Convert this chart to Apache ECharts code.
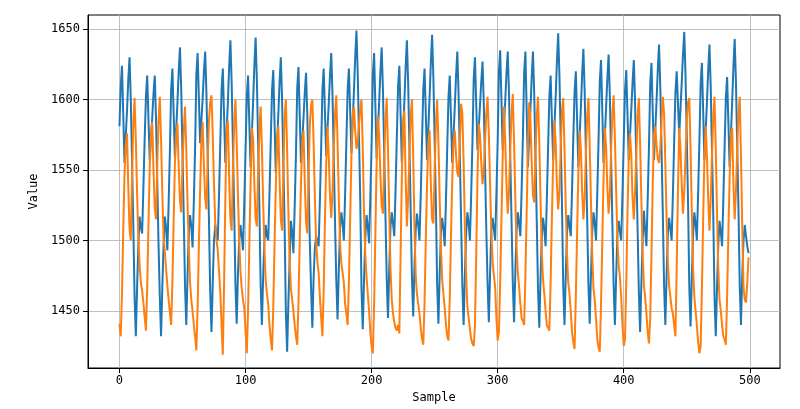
<!DOCTYPE html>
<html>
<head>
<meta charset="utf-8">
<script src="https://cdn.jsdelivr.net/npm/echarts@6/dist/echarts.min.js"></script>
<style>
html, body { margin: 0; padding: 0; background: #fff; }
#main { width: 800px; height: 409px; }
</style>
</head>
<body>
<div id="main"></div>
<script>
// tick labels
var xTicks = [0, 100, 200, 300, 400, 500];
var yTicks = [1450, 1500, 1550, 1600, 1650];

// series 1 (blue), one line per 20-sample cycle
var blueValues = [
  1581,1609,1624,1590,1555,1574,1592,1614,1630,1600,1555,1510,1460,1432,1467,1497,1517,1509,1505,1538,
  1572,1602,1617,1587,1557,1572,1587,1604,1617,1587,1542,1497,1460,1432,1467,1497,1517,1509,1493,1526,
  1563,1607,1622,1590,1559,1579,1598,1620,1637,1607,1562,1517,1468,1440,1475,1505,1518,1510,1495,1528,
  1565,1618,1633,1601,1569,1585,1601,1620,1634,1604,1559,1514,1463,1435,1470,1500,1511,1503,1500,1533,
  1570,1607,1622,1588,1555,1577,1598,1623,1642,1612,1567,1522,1469,1441,1476,1500,1511,1503,1493,1526,
  1563,1602,1617,1584,1552,1575,1598,1624,1644,1614,1569,1524,1468,1440,1475,1500,1511,1503,1500,1533,
  1570,1606,1621,1584,1548,1568,1589,1612,1630,1600,1555,1510,1449,1421,1456,1486,1514,1506,1491,1524,
  1561,1608,1623,1589,1555,1571,1587,1605,1619,1589,1544,1499,1466,1438,1473,1495,1503,1499,1496,1529,
  1566,1607,1622,1591,1560,1578,1597,1617,1633,1603,1558,1513,1472,1444,1479,1509,1520,1512,1500,1533,
  1570,1607,1622,1592,1562,1584,1606,1630,1649,1619,1574,1529,1465,1437,1472,1502,1518,1510,1498,1531,
  1568,1618,1633,1596,1558,1578,1598,1620,1637,1607,1562,1517,1473,1445,1480,1510,1520,1512,1503,1536,
  1573,1609,1624,1590,1555,1577,1599,1623,1642,1612,1567,1522,1474,1446,1481,1508,1519,1511,1500,1533,
  1570,1607,1622,1590,1557,1579,1602,1626,1646,1616,1571,1526,1469,1441,1476,1506,1516,1508,1496,1529,
  1566,1602,1617,1586,1555,1575,1595,1617,1634,1604,1559,1514,1468,1440,1475,1505,1520,1512,1500,1533,
  1570,1615,1630,1597,1564,1580,1596,1613,1627,1597,1552,1507,1470,1442,1477,1507,1516,1508,1500,1533,
  1570,1620,1635,1600,1564,1582,1599,1619,1634,1604,1559,1514,1470,1442,1477,1507,1520,1512,1503,1536,
  1573,1619,1634,1593,1552,1573,1593,1616,1634,1604,1559,1514,1466,1438,1473,1503,1516,1508,1496,1529,
  1566,1602,1617,1587,1557,1580,1602,1627,1647,1617,1572,1527,1468,1440,1475,1505,1518,1510,1503,1536,
  1573,1605,1620,1586,1552,1573,1594,1618,1636,1606,1561,1516,1469,1441,1476,1506,1520,1512,1500,1533,
  1570,1613,1628,1592,1555,1574,1594,1615,1632,1602,1557,1512,1468,1440,1475,1505,1514,1506,1500,1533,
  1570,1606,1621,1589,1557,1575,1593,1612,1628,1598,1553,1508,1463,1435,1470,1500,1521,1507,1496,1529,
  1566,1611,1626,1592,1557,1578,1598,1621,1639,1609,1564,1519,1468,1440,1475,1505,1516,1508,1500,1533,
  1570,1605,1620,1598,1575,1593,1612,1632,1648,1618,1573,1528,1467,1439,1474,1504,1520,1512,1500,1533,
  1570,1611,1626,1592,1557,1578,1598,1621,1639,1609,1564,1519,1460,1432,1467,1497,1514,1506,1496,1529,
  1566,1601,1616,1584,1552,1575,1598,1623,1643,1613,1568,1523,1468,1440,1475,1500,1511,1503,1496,1491
];

// series 2 (orange)
var orangeValues = [
  1441,1432,1462,1507,1547,1568,1576,1538,1508,1500,1545,1583,1601,1571,1533,1501,1482,1470,1464,1456,
  1446,1436,1466,1511,1551,1576,1584,1550,1523,1515,1554,1584,1602,1572,1534,1502,1492,1480,1468,1458,
  1449,1440,1470,1515,1555,1575,1583,1552,1528,1520,1554,1577,1595,1565,1527,1495,1470,1458,1450,1440,
  1432,1422,1452,1497,1537,1572,1584,1553,1530,1522,1557,1585,1598,1603,1575,1540,1512,1500,1493,1478,
  1463,1440,1419,1470,1530,1580,1585,1546,1515,1507,1549,1582,1600,1570,1532,1500,1478,1466,1458,1452,
  1436,1420,1450,1495,1540,1580,1572,1540,1516,1510,1548,1577,1595,1565,1527,1495,1472,1462,1455,1440,
  1430,1422,1452,1497,1537,1573,1581,1544,1515,1507,1549,1588,1600,1565,1520,1485,1466,1458,1450,1440,
  1432,1426,1456,1501,1541,1570,1578,1542,1513,1505,1546,1582,1596,1600,1570,1530,1500,1485,1477,1460,
  1445,1432,1465,1515,1555,1581,1560,1532,1516,1535,1565,1590,1603,1570,1530,1497,1484,1477,1470,1455,
  1448,1440,1470,1515,1560,1590,1595,1578,1565,1570,1582,1593,1600,1565,1520,1490,1474,1462,1450,1435,
  1425,1420,1455,1505,1555,1588,1575,1545,1525,1519,1556,1585,1601,1565,1520,1480,1458,1448,1442,1438,
  1436,1440,1434,1490,1545,1585,1592,1545,1510,1530,1560,1588,1600,1560,1510,1475,1462,1455,1448,1438,
  1430,1426,1456,1501,1541,1570,1578,1540,1515,1512,1549,1582,1600,1570,1530,1495,1472,1462,1452,1440,
  1432,1429,1459,1504,1544,1570,1578,1560,1548,1545,1570,1597,1590,1555,1510,1475,1453,1445,1437,1430,
  1427,1425,1440,1490,1545,1583,1575,1555,1540,1550,1570,1590,1602,1575,1540,1505,1485,1475,1467,1445,
  1429,1435,1470,1515,1560,1595,1570,1540,1519,1535,1565,1590,1604,1570,1530,1495,1477,1467,1455,1445,
  1443,1440,1475,1520,1565,1598,1585,1555,1532,1527,1560,1588,1602,1570,1530,1492,1472,1462,1450,1440,
  1438,1436,1470,1515,1555,1585,1570,1540,1522,1535,1565,1592,1601,1565,1525,1490,1470,1462,1450,1435,
  1428,1423,1460,1505,1548,1578,1565,1535,1515,1530,1562,1588,1601,1568,1528,1490,1466,1458,1445,1430,
  1424,1421,1455,1500,1545,1580,1567,1538,1519,1532,1565,1590,1603,1572,1535,1500,1482,1474,1460,1440,
  1425,1430,1470,1520,1560,1576,1560,1530,1515,1535,1562,1588,1601,1568,1528,1490,1468,1460,1448,1435,
  1427,1445,1490,1540,1575,1581,1568,1558,1555,1565,1585,1602,1590,1555,1515,1485,1468,1460,1452,1448,
  1440,1432,1480,1535,1580,1565,1540,1519,1535,1560,1585,1598,1601,1565,1520,1480,1460,1450,1440,1428,
  1420,1425,1465,1515,1560,1581,1560,1530,1507,1530,1560,1588,1602,1565,1520,1480,1458,1450,1440,1432,
  1430,1426,1460,1505,1545,1575,1580,1540,1515,1535,1565,1590,1602,1560,1510,1467,1458,1456,1470,1488
];

var fontName = 'DejaVu Sans Mono';

function toPairs(values) {
  return values.map(function (v, i) { return [i, v]; });
}

var myChart = echarts.init(document.getElementById('main'), null, { renderer: 'canvas' });

var option = {
  animation: false,
  backgroundColor: '#fff',
  grid: {
    left: 88, top: 15, width: 692, height: 353,
    show: true, borderColor: '#000', borderWidth: 1,
    outerBoundsMode: 'none'
  },
  xAxis: {
    type: 'value',
    min: -24.95,
    max: 523.95,
    name: 'Sample',
    nameLocation: 'middle',
    nameGap: 22,
    nameTextStyle: { fontFamily: fontName, fontSize: 12, color: '#000' },
    axisLine: { show: true, onZero: false, lineStyle: { color: '#000', width: 1 } },
    axisTick: { show: true, inside: false, length: 5, customValues: xTicks, lineStyle: { color: '#000' } },
    axisLabel: {
      customValues: xTicks, margin: 7, color: '#000', fontFamily: fontName, fontSize: 12,
      formatter: function (v) { return String(v); }
    },
    splitLine: { show: true, lineStyle: { color: '#b0b0b0', width: 0.8 } }
  },
  yAxis: {
    type: 'value',
    min: 1409.5,
    max: 1660,
    name: 'Value',
    nameLocation: 'middle',
    nameGap: 37,
    nameTextStyle: { fontFamily: fontName, fontSize: 12, color: '#000' },
    axisLine: { show: true, onZero: false, lineStyle: { color: '#000', width: 1 } },
    axisTick: { show: true, inside: false, length: 5, customValues: yTicks, lineStyle: { color: '#000' } },
    axisLabel: {
      customValues: yTicks, margin: 8, color: '#000', fontFamily: fontName, fontSize: 12,
      formatter: function (v) { return String(v); }
    },
    splitLine: { show: true, lineStyle: { color: '#b0b0b0', width: 0.8 } }
  },
  series: [
    {
      type: 'line',
      data: toPairs(blueValues),
      showSymbol: false,
      symbol: 'none',
      sampling: null,
      lineStyle: { color: '#1f77b4', width: 2 },
      itemStyle: { color: '#1f77b4' }
    },
    {
      type: 'line',
      data: toPairs(orangeValues),
      showSymbol: false,
      symbol: 'none',
      sampling: null,
      lineStyle: { color: '#ff7f0e', width: 2 },
      itemStyle: { color: '#ff7f0e' }
    }
  ]
};

myChart.setOption(option);
</script>
</body>
</html>
